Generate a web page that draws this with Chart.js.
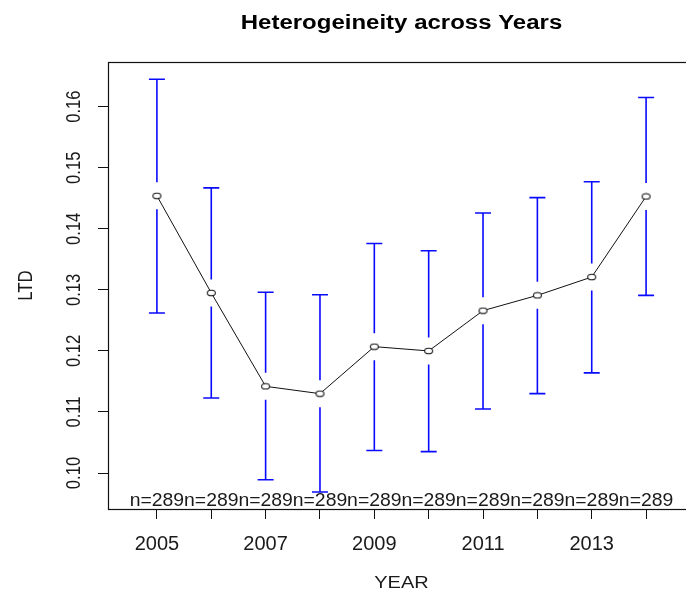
<!DOCTYPE html>
<html>
<head>
<meta charset="utf-8">
<script src="https://cdn.jsdelivr.net/npm/chart.js@4"></script>
<style>
  html, body { margin: 0; padding: 0; overflow: hidden; background: #ffffff; }
  canvas { display: block; }
</style>
</head>
<body>
<canvas id="chart" width="700" height="595"></canvas>
<script>
// LTD heterogeneity by year: group means with upper / lower interval bounds
const years       = [2005, 2006, 2007, 2008, 2009, 2010, 2011, 2012, 2013, 2014];
const xTickLabels = ['2005', '', '2007', '', '2009', '', '2011', '', '2013', ''];
const ltdMean     = [0.1454, 0.1295, 0.1142, 0.1130, 0.1207, 0.1200, 0.1266, 0.1291, 0.1321, 0.1453];
const ltdUpper    = [0.1645, 0.1467, 0.1296, 0.1292, 0.1376, 0.1364, 0.1426, 0.1451, 0.1477, 0.1615];
const ltdLower    = [0.1262, 0.1123, 0.0989, 0.0969, 0.1037, 0.1035, 0.1105, 0.1130, 0.1164, 0.1291];
const groupN      = [289, 289, 289, 289, 289, 289, 289, 289, 289, 289];
const yTicks      = [0.10, 0.11, 0.12, 0.13, 0.14, 0.15, 0.16];
const yTickLabels = ['0.10', '0.11', '0.12', '0.13', '0.14', '0.15', '0.16'];

const FONT = '"Liberation Sans", Arial, sans-serif';

// open ellipse marker used for each mean
const marker = document.createElement('canvas');
marker.width = 11; marker.height = 8;
(function () {
  const m = marker.getContext('2d');
  m.fillStyle = '#ffffff';
  m.strokeStyle = '#1a1a1a';
  m.lineWidth = 1.1;
  m.beginPath();
  m.ellipse(5.5, 4, 4.0, 2.8, 0, 0, Math.PI * 2);
  m.fill();
  m.stroke();
})();

// text helper: optional rotation and squeeze along the vertical screen direction
function drawText(ctx, text, x, y, font, opts) {
  const o = Object.assign({ align: 'center', baseline: 'alphabetic', rotate: false, squeeze: 1, color: '#000' }, opts || {});
  ctx.save();
  ctx.translate(x, y);
  if (o.rotate) {
    ctx.rotate(-Math.PI / 2);
    ctx.scale(o.squeeze, 1);
  } else {
    ctx.scale(1, o.squeeze);
  }
  ctx.font = font;
  ctx.fillStyle = o.color;
  ctx.textAlign = o.align;
  ctx.textBaseline = o.baseline;
  ctx.fillText(text, 0, 0);
  ctx.restore();
}

const errorBars = {
  id: 'errorBars',
  afterDatasetsDraw(chart) {
    const { ctx, scales: { x, y } } = chart;
    const gap = 13.5, half = 8;
    ctx.save();
    ctx.strokeStyle = '#0a0aff';
    ctx.lineWidth = 1.6;
    years.forEach((yr, i) => {
      const px = x.getPixelForValue(yr);
      const pm = y.getPixelForValue(ltdMean[i]);
      const pu = y.getPixelForValue(ltdUpper[i]);
      const pl = y.getPixelForValue(ltdLower[i]);
      ctx.beginPath();
      ctx.moveTo(px, pm - gap); ctx.lineTo(px, pu);
      ctx.moveTo(px - half, pu); ctx.lineTo(px + half, pu);
      ctx.moveTo(px, pm + gap); ctx.lineTo(px, pl);
      ctx.moveTo(px - half, pl); ctx.lineTo(px + half, pl);
      ctx.stroke();
    });
    ctx.restore();
  }
};

const frameAndText = {
  id: 'frameAndText',
  afterDraw(chart) {
    const { ctx, chartArea: a, scales: { x, y } } = chart;
    ctx.save();
    ctx.strokeStyle = '#111';
    ctx.lineWidth = 1.2;
    ctx.strokeRect(Math.round(a.left) + 0.5, Math.round(a.top) + 0.5,
                   Math.round(a.right - a.left), Math.round(a.bottom - a.top));
    ctx.restore();

    // rotated y tick labels
    yTicks.forEach((v, i) => {
      drawText(ctx, yTickLabels[i], 80, y.getPixelForValue(v), '20px ' + FONT,
               { rotate: true, squeeze: 0.83, color: '#1a1a1a' });
    });

    // sample sizes along the bottom of the plot
    years.forEach((yr, i) => {
      drawText(ctx, 'n=' + groupN[i], x.getPixelForValue(yr), 506, '19.4px ' + FONT,
               { squeeze: 0.9, color: '#1a1a1a' });
    });

    drawText(ctx, 'Heterogeineity across Years', (a.left + a.right) / 2, 29,
             'bold 24px ' + FONT, { squeeze: 0.86 });
    drawText(ctx, 'YEAR', (a.left + a.right) / 2, 588, '20px ' + FONT,
             { squeeze: 0.85, color: '#1a1a1a' });
    drawText(ctx, 'LTD', 32.3, (a.top + a.bottom) / 2, '20px ' + FONT,
             { rotate: true, squeeze: 0.84, color: '#1a1a1a' });
  }
};

new Chart(document.getElementById('chart'), {
  type: 'line',
  data: {
    datasets: [{
      data: years.map((yr, i) => ({ x: yr, y: ltdMean[i] })),
      borderColor: '#111111',
      borderWidth: 1,
      tension: 0,
      pointStyle: marker,
      pointRadius: 4,
      pointHoverRadius: 4,
      fill: false
    }]
  },
  options: {
    responsive: false,
    animation: false,
    events: [],
    layout: { padding: { left: 0, top: 62, right: 2, bottom: 0 } },
    plugins: { legend: { display: false }, title: { display: false }, tooltip: { enabled: false } },
    scales: {
      x: {
        type: 'linear',
        min: 2004.1,
        max: 2014.9,
        afterBuildTicks(scale) { scale.ticks = years.map(v => ({ value: v })); },
        afterFit(scale) { scale.height = 86; },
        grid: { drawOnChartArea: false, drawTicks: true, tickLength: 10, color: '#111', lineWidth: 1 },
        border: { display: true, color: '#111', width: 1 },
        ticks: {
          autoSkip: false,
          maxRotation: 0,
          minRotation: 0,
          padding: 13,
          color: '#1a1a1a',
          font: { family: FONT, size: 20 },
          callback(value) {
            const i = years.indexOf(Math.round(value));
            return i >= 0 ? xTickLabels[i] : '';
          }
        }
      },
      y: {
        type: 'linear',
        min: 0.09411,
        max: 0.16732,
        afterBuildTicks(scale) { scale.ticks = yTicks.map(v => ({ value: v })); },
        afterFit(scale) { scale.width = 108; },
        grid: { drawOnChartArea: false, drawTicks: true, tickLength: 10, color: '#111', lineWidth: 1 },
        border: { display: true, color: '#111', width: 1 },
        ticks: { display: false }
      }
    }
  },
  plugins: [errorBars, frameAndText]
});
</script>
</body>
</html>
